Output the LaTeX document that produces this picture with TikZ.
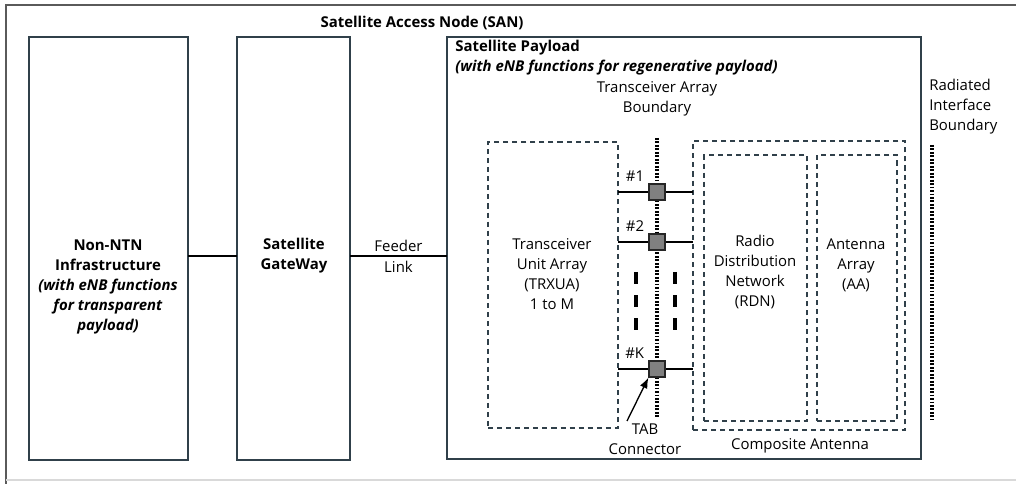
\documentclass[tikz,border=0pt]{standalone}
\usepackage{fontspec}
\setmainfont{Open Sans}
\usetikzlibrary{arrows.meta}

\definecolor{boxline}{RGB}{48,64,74}
\definecolor{frameline}{RGB}{90,90,90}
\definecolor{portfill}{RGB}{128,128,128}

\tikzset{
  sz/.style 2 args={minimum width=#1*0.75pt, minimum height=#2*0.75pt},
  solidbox/.style={draw=boxline, line width=1.4pt, inner sep=0pt, outer sep=0pt},
  dashbox/.style={draw=boxline, line width=1.3pt, dash pattern=on 3.8pt off 3pt,
    inner sep=0pt, outer sep=0pt},
  txt/.style={font=\fontsize{11.2}{15}\selectfont, align=center, inner sep=0pt},
  port/.style={draw=black!85, fill=portfill, line width=0.9pt,
    minimum size=16*0.75pt, inner sep=0pt},
  portlink/.style={line width=1.9pt},
  dotline/.style={line width=2.3pt, dash pattern=on 1.4pt off 1.2pt},
  ellip/.style={line width=2.8pt, dash pattern=on 9pt off 8.4pt}
}

\begin{document}
\begin{tikzpicture}[x=0.75pt, y=-0.75pt]

\useasboundingbox (0,0) rectangle (1016,484);

% Outer frame (SAN)
\draw [frameline, line width=1.5pt] (6,484) -- (6,5) -- (1016,5);
\draw [black!15, line width=0.8pt] (6,480) -- (1016,480);
\node [txt] (sanTitle) at (422,23) {\textbf{Satellite Access Node (SAN)}};

% Ground side
\node [solidbox, sz={159}{423}] (infra) at (108.5,248.5) {};
\node [txt] (infraText) at (108,287)
  {\textbf{Non-NTN}\\\textbf{Infrastructure}\\
   \textbf{\textit{(with eNB functions}}\\\textbf{\textit{for transparent}}\\
   \textbf{\textit{payload)}}};

\node [solidbox, sz={113}{423}] (gw) at (293.5,248.5) {};
\node [txt] (gwText) at (294,256) {\textbf{Satellite}\\\textbf{GateWay}};

% Payload
\node [solidbox, sz={474}{422}] (payload) at (684,248) {};
\node [txt, align=left, anchor=north west] (payloadTitle) at (455,40)
  {\textbf{Satellite Payload}\\\textbf{\textit{(with eNB functions for regenerative payload)}}};

\coordinate (feedY) at (0,256);
\draw [line width=1.1pt] (infra.east |- feedY) -- (gw.west |- feedY);
\draw [line width=1.1pt] (gw.east |- feedY) -- (payload.west |- feedY)
    node [txt, midway, above=3pt] (feedTop) {Feeder}
    node [txt, midway, below=3pt] (feedBot) {Link};

% Transceiver unit array and composite antenna
\node [dashbox, sz={130}{286}] (trxua) at (553,285) {};
\node [txt] (trxuaText) at (552,274) {Transceiver\\Unit Array\\(TRXUA)\\1 to M};

\node [dashbox, sz={212}{289}] (comp) at (799,285.5) {};
\node [dashbox, sz={103}{266}] (rdn) at (755.5,288) {};
\node [dashbox, sz={80}{266}] (aa) at (857,288) {};
\node [txt] (rdnText) at (755,272) {Radio\\Distribution\\Network\\(RDN)};
\node [txt] (aaText) at (856,265) {Antenna\\Array\\(AA)};
\node [txt] (compText) at (800,446) {Composite Antenna};

% Transceiver array boundary
\node [txt] (tabTitle) at (657,99) {Transceiver Array\\Boundary};
\coordinate (tabTop) at (657,138);
\coordinate (tabBot) at (657,417);
\coordinate (p1y) at (0,192);
\coordinate (p2y) at (0,242);
\coordinate (pKy) at (0,369);

\draw [portlink] (trxua.east |- p1y) -- (comp.west |- p1y);
\draw [portlink] (trxua.east |- p2y) -- (comp.west |- p2y);
\draw [line width=1.1pt] (trxua.east |- pKy) -- (comp.west |- pKy);
\draw [dotline] (tabTop) -- (tabBot);

\node [port] (p1) at (tabTop |- p1y) {};
\node [port] (p2) at (tabTop |- p2y) {};
\node [port] (pK) at (tabTop |- pKy) {};
\node [txt, anchor=south east] (p1Lbl) at ([xshift=-3pt, yshift=1pt]p1.north west) {\#1};
\node [txt, anchor=south east] (p2Lbl) at ([xshift=-3pt, yshift=1pt]p2.north west) {\#2};
\node [txt, anchor=south east] (pKLbl) at ([xshift=-3pt, yshift=1pt]pK.north west) {\#K};

% Ellipsis between ports
\draw [ellip] (636,272) -- (636,332);
\draw [ellip] (675,272) -- (675,332);

% TAB connector
\node [txt] (tabText) at (645,439) {TAB\\Connector};
\coordinate (tabTail) at (627,421);
\draw [-{Latex[length=8pt, width=6pt]}, line width=1pt] (tabTail) -- (pK.south west);

% Radiated interface boundary
\node [txt, align=left, anchor=west] (riText) at (929,107) {Radiated\\Interface\\Boundary};
\coordinate (riTop) at (932,145);
\coordinate (riBot) at (932,420);
\draw [dotline] (riTop) -- (riBot);

\end{tikzpicture}
\end{document}
